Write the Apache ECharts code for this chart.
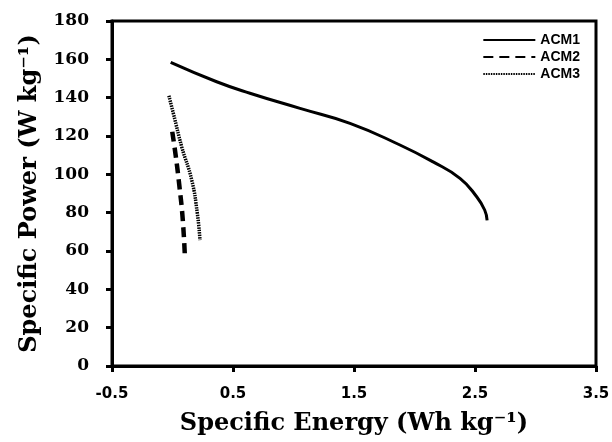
<!DOCTYPE html>
<html>
<head>
<meta charset="utf-8">
<script src="https://cdn.jsdelivr.net/npm/echarts@6/dist/echarts.min.js"></script>
<style>
    html, body { margin: 0; padding: 0; background: #fff; }
    #chart { width: 612px; height: 442px; }
</style>
</head>
<body>
<div id="chart"></div>
<script>
// 数据：比能量 (x) / 比功率 (y)
const seriesNames = ['ACM1', 'ACM2', 'ACM3'];
const acm1 = [[-0.015, 158.4], [0.365, 148.3], [0.64, 142.3], [1.054, 134.4], [1.467, 126.6],
    [1.88, 115.3], [2.15, 106.6], [2.376, 97.9], [2.514, 88.3], [2.58, 81.4], [2.60, 76]];
const acm2 = [[-0.002, 122.2], [0.026, 110], [0.056, 94.4], [0.084, 77], [0.103, 56.2]];
const acm3 = [[-0.03, 141], [0.007, 131.8], [0.076, 114.4], [0.159, 97], [0.205, 79.7], [0.227, 65.7]];

let myChart = echarts.init(document.getElementById('chart'));

// 线型
const styles = [
    { type: 'solid', width: 3 },
    { type: [10, 6], width: 4.5 },
    { type: [1.5, 1], width: 3.5 }
];
const allData = [acm1, acm2, acm3];

let option = {
    animation: false,
    grid: {
        left: 112,
        right: 16,
        top: 21,
        bottom: 76,
        outerBoundsMode: 'none',
        show: true,
        borderColor: '#000',
        borderWidth: 3
    },
    legend: {
        orient: 'vertical',
        right: 27,
        top: 28,
        itemWidth: 52,
        itemHeight: 14,
        itemGap: 3,
        data: seriesNames,
        itemStyle: { opacity: 0 },
        textStyle: {
            color: '#000',
            fontFamily: 'Liberation Sans',
            fontWeight: 'bold',
            fontSize: 14
        }
    },
    xAxis: {
        type: 'value',
        min: -0.5,
        max: 3.5,
        interval: 1,
        name: 'Specific Energy (Wh kg⁻¹)',
        nameLocation: 'middle',
        nameGap: 46,
        nameTextStyle: {
            color: '#000',
            fontFamily: 'DejaVu Serif',
            fontWeight: 'bold',
            fontSize: 24
        },
        axisLine: { onZero: false, lineStyle: { color: '#000', width: 3 } },
        axisTick: { show: true, length: 6, lineStyle: { color: '#000', width: 3 } },
        axisLabel: {
            color: '#000',
            fontFamily: 'DejaVu Sans',
            fontWeight: 'bold',
            fontSize: 15,
            margin: 21
        },
        splitLine: { show: false }
    },
    yAxis: {
        type: 'value',
        min: 0,
        max: 180,
        interval: 20,
        name: 'Specific Power (W kg⁻¹)',
        nameLocation: 'middle',
        nameGap: 70,
        nameTextStyle: {
            color: '#000',
            fontFamily: 'DejaVu Serif',
            fontWeight: 'bold',
            fontSize: 24
        },
        axisLine: { show: true, onZero: false, lineStyle: { color: '#000', width: 3 } },
        axisTick: { show: true, length: 6, lineStyle: { color: '#000', width: 3 } },
        axisLabel: {
            color: '#000',
            fontFamily: 'DejaVu Serif',
            fontWeight: 'bold',
            fontSize: 17,
            margin: 23
        },
        splitLine: { show: false }
    },
    series: seriesNames.map(function (name, i) {
        return {
            name: name,
            type: 'line',
            smooth: true,
            symbol: 'none',
            data: allData[i],
            lineStyle: { color: '#000', width: styles[i].width, type: styles[i].type },
            itemStyle: { color: '#000' }
        };
    })
};
myChart.setOption(option);
</script>
</body>
</html>
